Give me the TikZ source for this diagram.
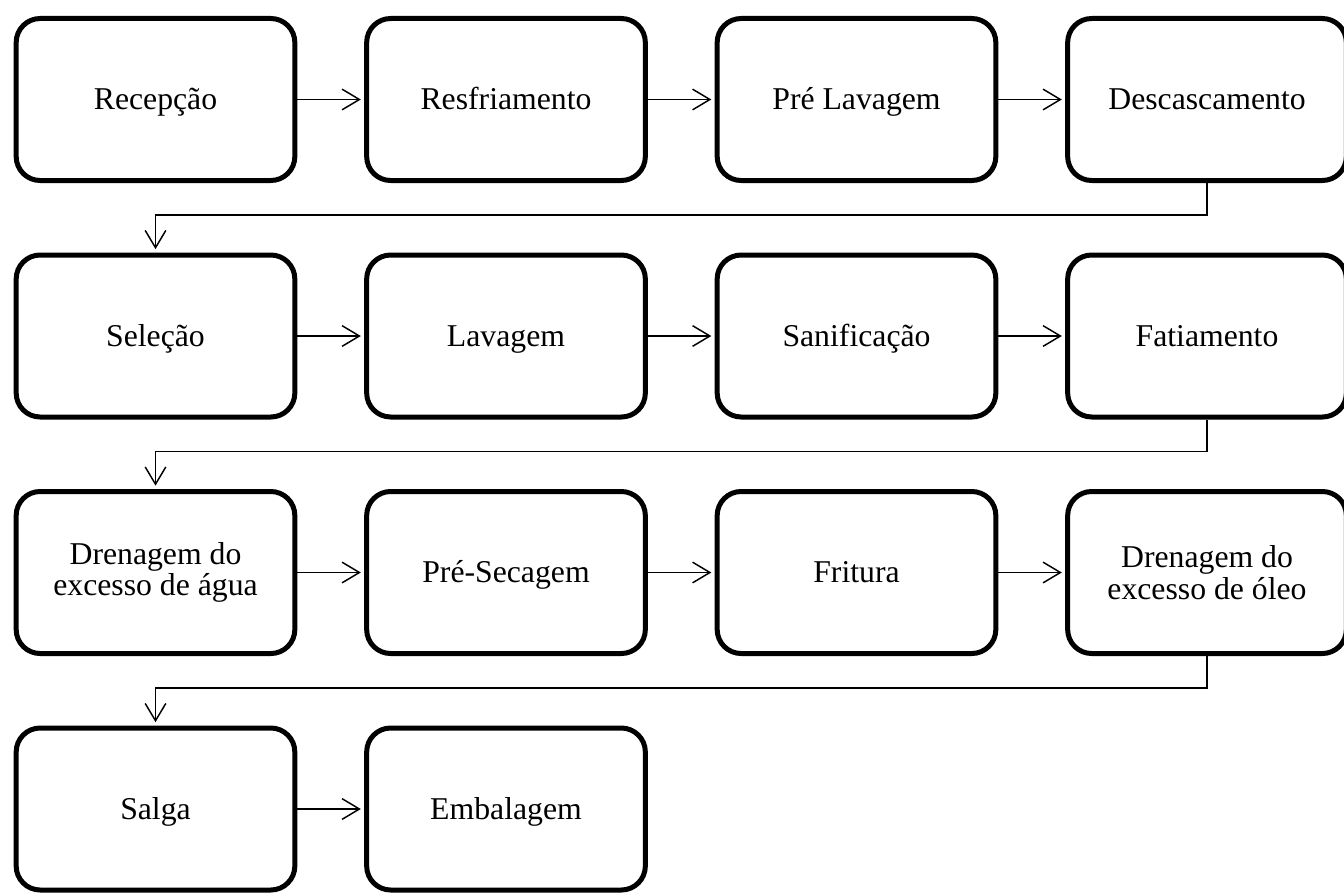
\documentclass[tikz,border=0pt]{standalone}
\usepackage{fontspec}
\setmainfont{Liberation Serif}
\usetikzlibrary{arrows.meta}
\tikzset{
  stepbox/.style={draw, line width=3.75pt, rounded corners=18pt,
    minimum width=209pt, minimum height=121.5pt, inner sep=0pt,
    align=center, font=\fontsize{23.8}{24}\selectfont},
  onebox/.style={stepbox, text height=18.5pt, text depth=3.5pt},
  twobox/.style={stepbox, inner ysep=0pt},
  arr/.style={line width=1.1pt, -{Straight Barb[length=13pt,width=15.5pt,line width=1.1pt]}, shorten >=2.5pt},
}
\begin{document}
\begin{tikzpicture}[x=0.75pt,y=-0.75pt]
\useasboundingbox (0,0) rectangle (1344,892);
\clip (0,0) rectangle (1344,892);
\node[onebox] (b1) at (155.5,99.5) {Recepção};
\node[onebox] (b2) at (506,99.5) {Resfriamento};
\node[onebox] (b3) at (856.5,99.5) {Pré Lavagem};
\node[onebox] (b4) at (1207,99.5) {Descascamento};
\node[onebox] (b5) at (155.5,336) {Seleção};
\node[onebox] (b6) at (506,336) {Lavagem};
\node[onebox] (b7) at (856.5,336) {Sanificação};
\node[onebox] (b8) at (1207,336) {Fatiamento};
\node[twobox] (b9) at (155.5,572.5) {\raisebox{-1.2pt}{\shortstack{Drenagem do\\[-1pt]excesso de água}}};
\node[onebox] (b10) at (506,572.5) {Pré-Secagem};
\node[onebox] (b11) at (856.5,572.5) {Fritura};
\node[twobox] (b12) at (1207,572.5) {\raisebox{-1.2pt}{\shortstack{Drenagem do\\[-1pt]excesso de óleo}}};
\node[onebox] (b13) at (155.5,809) {Salga};
\node[onebox] (b14) at (506,809) {Embalagem};
\draw[arr] (b1) -- (b2);
\draw[arr] (b2) -- (b3);
\draw[arr] (b3) -- (b4);
\draw[arr] (b4.south) -- ++(0,32) -| (b5.north);
\draw[arr] (b5) -- (b6);
\draw[arr] (b6) -- (b7);
\draw[arr] (b7) -- (b8);
\draw[arr] (b8.south) -- ++(0,32) -| (b9.north);
\draw[arr] (b9) -- (b10);
\draw[arr] (b10) -- (b11);
\draw[arr] (b11) -- (b12);
\draw[arr] (b12.south) -- ++(0,32) -| (b13.north);
\draw[arr] (b13) -- (b14);
\end{tikzpicture}
\end{document}
